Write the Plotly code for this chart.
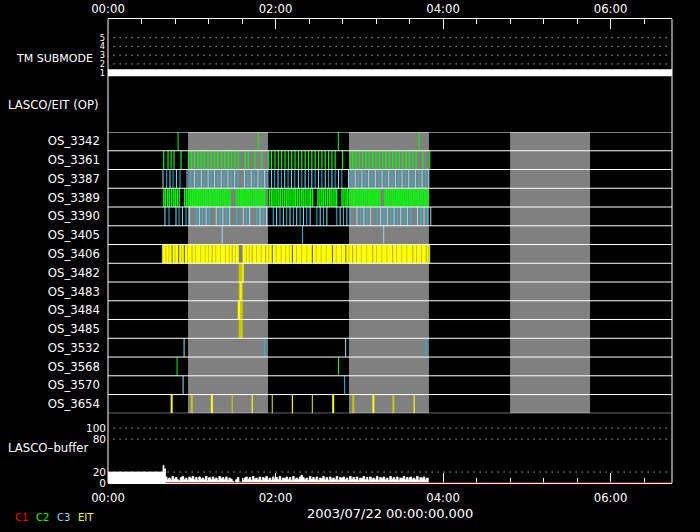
import plotly.graph_objects as go

# ---------------- data (time in minutes after 2003/07/22 00:00) ----------------
X_MAX = 404.0

row_names = ["OS_3342", "OS_3361", "OS_3387", "OS_3389", "OS_3390", "OS_3405", "OS_3406",
             "OS_3482", "OS_3483", "OS_3484", "OS_3485", "OS_3532", "OS_3568", "OS_3570", "OS_3654"]

gray_gaps = [(57.3, 114.6), (172.6, 229.9), (288.0, 345.3)]

tm_time = [0.0, X_MAX]
tm_mode = [1, 1]
tm_ticks = [1, 2, 3, 4, 5]

os3342_c2 = [50.2, 107.6, 165.0, 222.9]
os3361_c2 = [39.9, 43.0, 45.2, 47.3, 52.3, 57.6, 59.8, 61.9, 64.5, 66.7, 68.9, 71.5, 73.9, 76.3, 78.7,
             81.3, 83.7, 86.1, 88.5, 90.9, 93.3, 98.3, 100.5, 105.3, 110.1, 115.1, 117.2, 119.6, 122.0,
             124.4, 126.8, 129.2, 131.6, 134.0, 136.4, 138.8, 141.2, 143.6, 146.0, 148.4, 150.8, 153.2,
             155.6, 158.0, 160.4, 162.7, 168.0, 173.5, 175.2, 177.6, 180.0, 182.4, 184.8, 187.2, 189.6,
             192.0, 194.4, 196.7, 199.1, 201.5, 203.9, 206.3, 208.7, 211.1, 213.5, 215.9, 218.3, 220.7,
             225.5, 230.5]
os3387_c3_light = [39.4, 44.4, 49.0, 56.6, 61.9, 66.9, 71.7, 76.3, 81.1, 85.9, 90.7, 97.8, 102.6, 107.4,
                   112.2, 117.2, 121.8, 126.6, 131.4, 136.4, 141.2, 146.0, 150.8, 155.6, 160.4, 165.1,
                   172.3, 177.1, 181.9, 186.7, 191.5, 196.3, 201.1, 205.9, 210.6, 215.4, 220.2, 225.0, 229.8]
os3387_c3_deep = [42.0, 46.6, 51.6, 59.3, 64.3, 69.1, 73.9, 78.7, 83.2, 88.3, 93.0, 100.2, 105.0, 109.8,
                  114.6, 119.4, 124.2, 129.0, 133.8, 138.8, 143.6, 148.4, 153.2, 158.0, 162.7, 167.5,
                  174.7, 179.5, 184.3, 189.1, 193.9, 198.7, 203.5, 208.2, 213.0, 217.8, 222.6, 227.4]
os3389_c2 = [40.0, 41.2, 42.8, 44.0, 45.6, 47.0, 48.2, 49.6, 51.0, 55.0, 56.4, 57.6, 59.0, 60.4, 61.8,
             63.0, 64.4, 65.8, 67.2, 68.4, 69.8, 71.2, 72.6, 73.8, 75.2, 76.6, 78.0, 79.2, 80.6, 82.0,
             83.4, 84.6, 86.0, 87.4, 92.0, 93.4, 94.8, 96.0, 97.4, 98.8, 100.2, 101.4, 102.8, 104.2,
             105.6, 106.8, 108.2, 109.6, 111.0, 112.2, 115.6, 117.0, 118.2, 119.6, 121.0, 122.4, 123.6,
             125.0, 126.4, 127.8, 129.0, 130.4, 131.8, 133.2, 134.4, 135.8, 137.2, 138.6, 139.8, 141.2,
             142.6, 144.0, 145.2, 146.6, 150.4, 151.8, 153.2, 154.4, 155.8, 157.2, 158.6, 159.8, 161.2,
             162.6, 163.8, 167.6, 169.0, 170.4, 171.6, 173.0, 174.4, 175.8, 177.0, 178.4, 179.8, 181.2,
             182.4, 183.8, 185.2, 186.6, 187.8, 189.2, 190.6, 192.0, 193.2, 194.6, 198.4, 199.8, 201.0,
             202.4, 203.8, 205.2, 206.4, 207.8, 209.2, 210.6, 211.8, 213.2, 214.6, 216.0, 217.2, 218.6,
             220.0, 221.4, 222.6, 224.0, 225.4, 226.8, 228.0, 229.4]
os3390_c3_light = [40.8, 48.7, 53.3, 58.3, 65.5, 70.3, 77.5, 82.3, 87.1, 96.9, 101.4, 108.9, 113.6, 120.8,
                   125.6, 130.4, 135.2, 140.0, 144.8, 152.0, 156.8, 166.3, 171.1, 178.3, 183.3, 188.1,
                   195.3, 200.1, 204.9, 209.7, 214.5, 221.7, 226.4, 231.2]
os3390_c3_deep = [43.7, 50.9, 55.9, 63.3, 67.7, 72.7, 80.1, 84.9, 92.1, 99.3, 106.5, 111.3, 118.4, 123.2,
                  128.0, 132.8, 137.6, 142.4, 149.6, 154.4, 163.9, 168.7, 173.5, 180.9, 185.7, 192.9,
                  197.7, 202.5, 207.3, 212.1, 216.9, 224.1, 228.8]
os3405_c3_light = [81.8, 197.5]
os3405_c3_deep = [139.3]
os3406_eit_blocks = [(38.9, 45.5), (46.3, 50.2), (51.0, 54.3), (55.1, 59.8), (60.6, 74.2), (75.0, 88.6),
                     (89.4, 93.5), (96.6, 102.9), (103.7, 112.5), (113.3, 117.3), (118.1, 131.7),
                     (132.5, 146.0), (146.8, 160.4), (161.2, 170.0), (170.8, 174.8), (175.6, 189.2),
                     (190.0, 203.5), (204.3, 217.9), (218.7, 227.5), (228.3, 230.5)]
os3406_eit_dim_lines = [41.5, 43.6, 48.0, 52.6, 57.0, 62.8, 66.4, 69.6, 71.9, 77.2, 80.5, 84.1, 86.8,
                        91.2, 99.0, 101.2, 106.4, 109.8, 115.2, 120.5, 124.0, 127.3, 129.9, 135.0,
                        138.6, 142.4, 149.1, 152.7, 156.3, 163.5, 167.2, 172.6, 178.0, 181.5, 185.3,
                        192.4, 196.1, 199.8, 206.7, 210.4, 214.0, 221.0, 224.6, 229.5]
os3482_eit_dim = [(93.8, 96.4)]
os3482_eit = [(96.4, 97.1)]
os3483_eit_dim = [(93.8, 94.7), (95.5, 96.4)]
os3483_eit = [(94.7, 95.5)]
os3484_eit = [(93.1, 94.9)]
os3484_eit_dim = [(94.9, 96.4)]
os3485_eit_dim = [(93.8, 96.4)]
os3532_c3_light = [54.5, 170.2]
os3532_c3_deep = [112.0, 227.7]
os3568_c2 = [49.5, 165.1]
os3570_c3_light = [53.8]
os3570_c3_deep = [169.5]
os3654_eit_wide = [45.6, 74.4, 161.3, 190.1]
os3654_eit_thin = [103.3, 132.1, 219.3]
os3654_dim_wide = [60.0, 175.7, 204.4]
os3654_dim_thin = [89.0, 117.7, 146.4]

buffer_t = [0.0, 39.4, 40.1, 40.6, 41.2, 42.3, 43.4, 44.6, 45.8, 47.0, 48.2, 49.4, 50.6, 51.8, 53.0,
            54.2, 55.4, 56.6, 57.8, 59.0, 60.2, 61.4, 62.6, 63.8, 65.0, 66.2, 67.4, 68.6, 69.8, 71.0,
            72.2, 73.4, 74.6, 75.8, 77.0, 78.2, 79.4, 80.6, 81.8, 83.0, 84.2, 85.4, 86.6, 87.8, 89.0,
            90.2, 91.4, 92.6, 93.8, 95.0, 96.2, 97.4, 98.6, 99.8, 101.0, 102.2, 103.4, 104.6, 105.8,
            107.0, 108.2, 109.4, 110.6, 111.8, 113.0, 114.2, 115.4, 116.6, 117.8, 119.0, 120.2, 121.4,
            122.6, 123.8, 125.0, 126.2, 127.4, 128.6, 129.8, 131.0, 132.2, 133.4, 134.6, 135.8, 137.0,
            138.2, 139.4, 140.6, 141.8, 143.0, 144.2, 145.4, 146.6, 147.8, 149.0, 150.2, 151.4, 152.6,
            153.8, 155.0, 156.2, 157.4, 158.6, 159.8, 161.0, 162.2, 163.4, 164.6, 165.8, 167.0, 168.2,
            169.4, 170.6, 171.8, 173.0, 174.2, 175.4, 176.6, 177.8, 179.0, 180.2, 181.4, 182.6, 183.8,
            185.0, 186.2, 187.4, 188.6, 189.8, 191.0, 192.2, 193.4, 194.6, 195.8, 197.0, 198.2, 199.4,
            200.6, 201.8, 203.0, 204.2, 205.4, 206.6, 207.8, 209.0, 210.2, 211.4, 212.6, 213.8, 215.0,
            216.2, 217.4, 218.6, 219.8, 221.0, 222.2, 223.4, 224.6, 225.8, 227.0, 228.2, 229.4, 230.6]
buffer_v = [20, 32, 20, 26, 11, 6, 9, 5, 12, 7, 10, 6, 4, 10, 12, 6, 9, 5, 11, 8, 12, 6, 10, 5, 11, 7,
            9, 6, 12, 4, 10, 6, 11, 7, 9, 5, 12, 8, 10, 6, 11, 5, 9, 7, 3, 0, 6, 10, 2, 0, 5, 9, 11, 6,
            10, 5, 12, 7, 9, 6, 11, 5, 10, 8, 12, 6, 9, 5, 11, 7, 10, 6, 12, 5, 9, 8, 11, 6, 10, 5, 12,
            7, 9, 6, 11, 14, 10, 6, 9, 5, 12, 7, 10, 6, 11, 5, 9, 8, 12, 6, 10, 5, 11, 7, 9, 6, 12, 5,
            10, 8, 11, 6, 9, 5, 12, 7, 10, 6, 11, 5, 9, 8, 12, 6, 10, 5, 11, 7, 9, 6, 12, 5, 10, 8, 11,
            6, 9, 5, 12, 7, 10, 6, 11, 5, 9, 8, 12, 6, 10, 5, 11, 7, 9, 6, 12, 5, 10, 8, 11, 6, 9, 0]
c1_t = [41.2, X_MAX]
c1_v = [0, 0]
buffer_ticks = [0, 20, 80, 100]
buffer_dotted = [20, 80, 100]
tm_dotted = [2, 3, 4, 5]

major_ticks = [0, 120, 240, 360]
major_labels = ["00:00", "02:00", "04:00", "06:00"]

# ---------------- styling ----------------
W, H = 700, 532
ML, MR, MT, MB = 108, 28, 19, 49
PW, PH = W - ML - MR, H - MT - MB
FONT = "DejaVu Sans"
GREEN = "#00ff00"
C3L = "#8fdff5"
C3D = "#12c3ef"
EIT = "#ffff00"
EITD = "#c8c800"
GRAY = "#808080"
RED = "#ff0000"
N = len(row_names)


def py(p):
    return (H - MB - p) / PH


def px(p):
    return (p - ML) / PW


def vlines(times, row, color, width):
    y0, y1 = N - 1 - row, N - row
    xs, ys = [], []
    for t in times:
        xs += [t, t, None]
        ys += [y0, y1, None]
    return go.Scatter(x=xs, y=ys, mode="lines", line=dict(color=color, width=width),
                      yaxis="y2", hoverinfo="skip", showlegend=False)


def blocks(intervals, row, color):
    y0, y1 = N - 1 - row, N - row
    xs, ys = [], []
    for a, b in intervals:
        xs += [a, b, b, a, a, None]
        ys += [y0, y0, y1, y1, y0, None]
    return go.Scatter(x=xs, y=ys, mode="lines", fill="toself", fillcolor=color,
                      line=dict(color=color, width=0.5), yaxis="y2", hoverinfo="skip",
                      showlegend=False)


r = {n: i for i, n in enumerate(row_names)}
fig = go.Figure()

# TM submode
fig.add_trace(go.Scatter(x=tm_time, y=tm_mode, mode="lines", line=dict(color="white", width=7),
                         yaxis="y3", hoverinfo="skip", showlegend=False))
fig.add_trace(go.Scatter(x=[0], y=[0], xaxis="x2", yaxis="y3", mode="markers",
                         marker=dict(opacity=0), hoverinfo="skip", showlegend=False))

# OS rows
fig.add_trace(vlines(os3342_c2, r["OS_3342"], GREEN, 1))
fig.add_trace(vlines(os3361_c2, r["OS_3361"], GREEN, 1.2))
fig.add_trace(vlines(os3387_c3_light, r["OS_3387"], C3L, 1))
fig.add_trace(vlines(os3387_c3_deep, r["OS_3387"], C3D, 1))
fig.add_trace(vlines(os3389_c2, r["OS_3389"], GREEN, 1.5))
fig.add_trace(vlines(os3390_c3_light, r["OS_3390"], C3L, 1))
fig.add_trace(vlines(os3390_c3_deep, r["OS_3390"], C3D, 1))
fig.add_trace(vlines(os3405_c3_light, r["OS_3405"], C3L, 1))
fig.add_trace(vlines(os3405_c3_deep, r["OS_3405"], C3D, 1))
fig.add_trace(blocks(os3406_eit_blocks, r["OS_3406"], EIT))
fig.add_trace(vlines(os3406_eit_dim_lines, r["OS_3406"], EITD, 1))
fig.add_trace(blocks(os3482_eit_dim, r["OS_3482"], EITD))
fig.add_trace(blocks(os3482_eit, r["OS_3482"], EIT))
fig.add_trace(blocks(os3483_eit_dim, r["OS_3483"], EITD))
fig.add_trace(blocks(os3483_eit, r["OS_3483"], EIT))
fig.add_trace(blocks(os3484_eit, r["OS_3484"], EIT))
fig.add_trace(blocks(os3484_eit_dim, r["OS_3484"], EITD))
fig.add_trace(blocks(os3485_eit_dim, r["OS_3485"], EITD))
fig.add_trace(vlines(os3532_c3_light, r["OS_3532"], C3L, 1))
fig.add_trace(vlines(os3532_c3_deep, r["OS_3532"], C3D, 1))
fig.add_trace(vlines(os3568_c2, r["OS_3568"], GREEN, 1))
fig.add_trace(vlines(os3570_c3_light, r["OS_3570"], C3L, 1))
fig.add_trace(vlines(os3570_c3_deep, r["OS_3570"], C3D, 1))
fig.add_trace(vlines(os3654_eit_wide, r["OS_3654"], EIT, 2))
fig.add_trace(vlines(os3654_eit_thin, r["OS_3654"], EIT, 1.2))
fig.add_trace(vlines(os3654_dim_wide, r["OS_3654"], EITD, 2))
fig.add_trace(vlines(os3654_dim_thin, r["OS_3654"], EITD, 1.2))

# buffer
fig.add_trace(go.Scatter(x=buffer_t, y=buffer_v, mode="lines", line=dict(color="white", width=0.8, shape="hv"),
                         fill="tozeroy", fillcolor="white", yaxis="y", hoverinfo="skip", showlegend=False))
fig.add_trace(go.Scatter(x=c1_t, y=c1_v, mode="lines", line=dict(color=RED, width=1.5),
                         yaxis="y", cliponaxis=False, hoverinfo="skip", showlegend=False))

shapes = []
for a, b in gray_gaps:
    shapes.append(dict(type="rect", xref="x", yref="y2", x0=a, x1=b, y0=0, y1=N,
                       fillcolor=GRAY, line=dict(width=0), layer="below"))
for k in range(N + 1):
    shapes.append(dict(type="line", xref="paper", yref="y2", x0=0, x1=1, y0=k, y1=k,
                       line=dict(color="white", width=1), layer="above"))
for v in tm_dotted:
    shapes.append(dict(type="line", xref="x", yref="y3", x0=4, x1=X_MAX - 2, y0=v, y1=v,
                       line=dict(color="white", width=1, dash="1px,5px"), layer="below"))
for v in buffer_dotted:
    shapes.append(dict(type="line", xref="x", yref="y", x0=4, x1=X_MAX - 2, y0=v, y1=v,
                       line=dict(color="white", width=1, dash="1px,5px"), layer="below"))
for xx in (0, 1):
    shapes.append(dict(type="line", xref="paper", yref="paper", x0=xx, x1=xx, y0=0, y1=1,
                       line=dict(color="white", width=1), layer="above"))

tick_font = dict(family=FONT, size=11.7, color="white")
xcommon = dict(range=[0, X_MAX], tickvals=major_ticks, ticktext=major_labels, ticks="inside",
               ticklen=10, tickcolor="white", tickwidth=1, showgrid=False, zeroline=False,
               showline=True, linecolor="white", linewidth=1, tickfont=tick_font,
               automargin=False,
               minor=dict(ticks="inside", ticklen=5, tickcolor="white", tick0=0, dtick=24,
                          showgrid=False))

annotations = [
    dict(text="TM SUBMODE", x=px(95), y=py(58), xanchor="right", yanchor="middle",
         font=dict(family=FONT, size=11, color="white")),
    dict(text="LASCO/EIT (OP)", x=px(101), y=py(105), xanchor="right", yanchor="middle"),
    dict(text="LASCO\u2013buffer", x=px(90), y=py(448), xanchor="right", yanchor="middle"),
    dict(text="2003/07/22 00:00:00.000", x=px(390), y=py(513), xanchor="center", yanchor="middle",
         font=dict(family=FONT, size=13, color="white")),
    dict(text="C1", x=px(13), y=py(517), xanchor="left", yanchor="middle",
         font=dict(family=FONT, size=10, color=RED)),
    dict(text="C2", x=px(34), y=py(517), xanchor="left", yanchor="middle",
         font=dict(family=FONT, size=10, color=GREEN)),
    dict(text="C3", x=px(55), y=py(517), xanchor="left", yanchor="middle",
         font=dict(family=FONT, size=10, color=C3L)),
    dict(text="EIT", x=px(76), y=py(517), xanchor="left", yanchor="middle",
         font=dict(family=FONT, size=10, color=EIT)),
]
for a in annotations:
    a.update(xref="paper", yref="paper", showarrow=False)
    a.setdefault("font", dict(family=FONT, size=11.7, color="white"))

fig.update_layout(
    width=W, height=H,
    margin=dict(l=ML, r=MR, t=MT, b=MB, pad=0, autoexpand=False),
    paper_bgcolor="black", plot_bgcolor="black",
    showlegend=False,
    xaxis=dict(anchor="y", side="bottom", layer="below traces", ticklabelstandoff=4, **xcommon),
    xaxis2=dict(anchor="y3", side="top", overlaying="x", **xcommon),
    yaxis=dict(domain=[0, py(413.3)], range=[0, 127], tickvals=buffer_ticks,
               ticktext=[str(v) for v in buffer_ticks], showgrid=False, zeroline=False,
               showline=False, ticks="", ticklabelstandoff=1, automargin=False,
               tickfont=dict(family=FONT, size=10.5, color="white")),
    yaxis2=dict(domain=[py(413.3), py(132)], range=[0, N],
                tickvals=[N - 0.5 - i for i in range(N)], ticktext=row_names,
                showgrid=False, zeroline=False, showline=False, ticks="",
                ticklabelstandoff=7, tickfont=tick_font, automargin=False),
    yaxis3=dict(domain=[py(84), 1], range=[-0.29, 7.137], tickvals=tm_ticks,
                ticktext=[str(v) for v in tm_ticks], showgrid=False, zeroline=False,
                showline=False, ticks="", ticklabelstandoff=2, automargin=False,
                tickfont=dict(family=FONT, size=8.3, color="white")),
    shapes=shapes,
    annotations=annotations,
)

fig.write_html("out.html", config={"displayModeBar": False, "staticPlot": True},
               post_script="document.body.style.margin='0';document.body.style.background='black';")
